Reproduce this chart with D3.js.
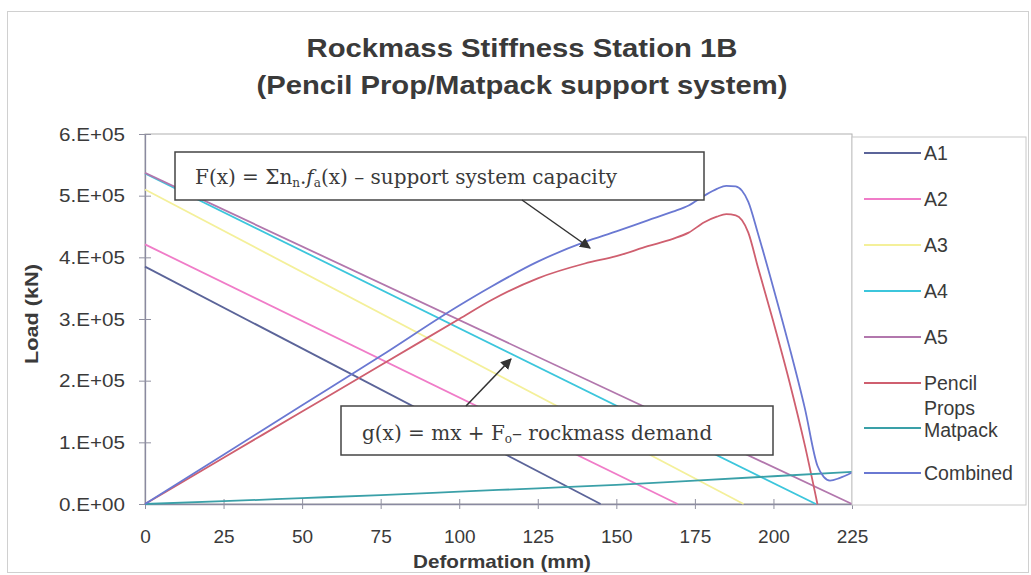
<!DOCTYPE html>
<html>
<head>
<meta charset="utf-8">
<script src="https://cdn.jsdelivr.net/npm/d3@7"></script>
<style>
  html, body { margin: 0; padding: 0; background: #fff; }
  svg { display: block; }
</style>
</head>
<body>
<svg id="chart" width="1031" height="575"></svg>
<script>
// Deformation (mm) / Load (kN) readings
const deformTicks = [0, 25, 50, 75, 100, 125, 150, 175, 200, 225];
const loadTicks = [0, 100000, 200000, 300000, 400000, 500000, 600000];
const loadTickLabels = ["0.E+00", "1.E+05", "2.E+05", "3.E+05", "4.E+05", "5.E+05", "6.E+05"];

// rockmass demand lines g(x) = mx + Fo
const a1 = [[0, 385000], [145, 0]];
const a2 = [[0, 421000], [169.5, 0]];
const a3 = [[0, 510000], [190.5, 0]];
const a4 = [[0, 536000], [213.5, 0]];
const a5 = [[0, 537000], [225, 0]];

// support capacity curves
const pencilX = [0, 25, 50, 75, 100, 110, 125, 140, 150, 160, 168, 173, 178, 182, 185, 188, 190, 192, 195, 200, 205, 210, 214];
const pencilY = [0, 75000, 150000, 225000, 300000, 330000, 366000, 390000, 402000, 418000, 430000, 440000, 457000, 466000, 470000, 468000, 460000, 440000, 385000, 295000, 200000, 95000, 0];

const matpackX = [0, 25, 50, 75, 100, 125, 150, 175, 200, 225];
const matpackY = [0, 4500, 9500, 14500, 20000, 25500, 31000, 38000, 45000, 52000];

const combinedX = [0, 25, 50, 75, 100, 110, 125, 140, 150, 160, 168, 173, 178, 182, 185, 188, 190, 192, 195, 200, 205, 210, 214, 216, 218, 221, 225];
const combinedY = [0, 80000, 160000, 240000, 322000, 352000, 393000, 425000, 442000, 460000, 474000, 484000, 500000, 511000, 516000, 515000, 508000, 490000, 440000, 350000, 256000, 155000, 62000, 44000, 38000, 42000, 51000];

const seriesNames = ["A1", "A2", "A3", "A4", "A5", "Pencil Props", "Matpack", "Combined"];
const seriesColors = ["#5b6499", "#f07cc8", "#f4f09a", "#3cc6dc", "#b277ad", "#cf5f6f", "#3aa0a8", "#6a78d2"];

const zip = (xs, ys) => xs.map((x, i) => [x, ys[i]]);
const seriesData = [a1, a2, a3, a4, a5, zip(pencilX, pencilY), zip(matpackX, matpackY), zip(combinedX, combinedY)];

const svg = d3.select("#chart");
const textColor = "#3a3a3a";
const sans = "Liberation Sans, Arial, sans-serif";
const serif = "DejaVu Serif, Liberation Serif, serif";

// outer frame
svg.append("rect")
  .attr("x", 7.5).attr("y", 11.5).attr("width", 1021).attr("height", 561)
  .attr("fill", "#fff").attr("stroke", "#d0d0d0").attr("stroke-width", 1);

const plot = { left: 145, right: 852, top: 134, bottom: 504 };
const x = d3.scaleLinear().domain([0, 225]).range([plot.left, plot.right]);
const y = d3.scaleLinear().domain([0, 600000]).range([plot.bottom, plot.top]);

// title
function titleLine(txt, ty, len) {
  svg.append("text")
    .attr("x", 522).attr("y", ty)
    .attr("text-anchor", "middle")
    .attr("font-family", sans)
    .attr("font-weight", "bold")
    .attr("font-size", 26)
    .attr("fill", textColor)
    .attr("textLength", len)
    .attr("lengthAdjust", "spacingAndGlyphs")
    .text(txt);
}
titleLine("Rockmass Stiffness Station 1B", 57, 431);
titleLine("(Pencil Prop/Matpack support system)", 94, 531);

// plot area border
svg.append("rect")
  .attr("x", plot.left).attr("y", plot.top)
  .attr("width", plot.right - plot.left).attr("height", plot.bottom - plot.top)
  .attr("fill", "none").attr("stroke", "#b0b0b0").attr("stroke-width", 1);

// axes
const xAxis = d3.axisBottom(x).tickValues(deformTicks).tickSize(0).tickPadding(26).tickFormat(d3.format("d"));
const yAxis = d3.axisLeft(y).tickValues(loadTicks).tickSize(0).tickPadding(20)
  .tickFormat(d => loadTickLabels[loadTicks.indexOf(d)]);

const gx = svg.append("g").attr("transform", `translate(0,${plot.bottom})`).call(xAxis);
const gy = svg.append("g").attr("transform", `translate(${plot.left},0)`).call(yAxis);
[gx, gy].forEach(g => {
  g.select(".domain").attr("stroke", "#8a8aa0").attr("stroke-width", 1.3);
  g.selectAll("text")
    .attr("font-family", sans)
    .attr("font-size", 19)
    .attr("fill", textColor);
});
gy.selectAll("text")
  .attr("textLength", 66)
  .attr("lengthAdjust", "spacingAndGlyphs");
// cross tick marks
gx.selectAll(".tick").append("line").attr("y1", -5).attr("y2", 5).attr("stroke", "#9090a0");
gy.selectAll(".tick").append("line").attr("x1", -6).attr("x2", 6).attr("stroke", "#9090a0");

// axis titles
svg.append("text")
  .attr("x", 502).attr("y", 568)
  .attr("text-anchor", "middle")
  .attr("font-family", sans)
  .attr("font-weight", "bold").attr("font-size", 19)
  .attr("fill", textColor)
  .attr("textLength", 178).attr("lengthAdjust", "spacingAndGlyphs")
  .text("Deformation (mm)");
svg.append("text")
  .attr("transform", "translate(38,314) rotate(-90)")
  .attr("text-anchor", "middle")
  .attr("font-family", sans)
  .attr("font-weight", "bold").attr("font-size", 19)
  .attr("fill", textColor)
  .attr("textLength", 100).attr("lengthAdjust", "spacingAndGlyphs")
  .text("Load (kN)");

// series lines
const line = d3.line().x(d => x(d[0])).y(d => y(d[1])).curve(d3.curveMonotoneX);
const linesG = svg.append("g");
seriesData.forEach((data, i) => {
  linesG.append("path")
    .datum(data)
    .attr("d", line)
    .attr("fill", "none")
    .attr("stroke", seriesColors[i])
    .attr("stroke-width", 1.8)
    .attr("stroke-linejoin", "round");
});

// legend
svg.append("rect")
  .attr("x", 852).attr("y", 137).attr("width", 174).attr("height", 368)
  .attr("fill", "#fff").attr("stroke", "#c8c8c8");
const legendY = [153, 199, 245, 291, 337, 383, 428, 473];
seriesNames.forEach((name, i) => {
  const ly = legendY[i];
  svg.append("line")
    .attr("x1", 864).attr("x2", 921).attr("y1", ly).attr("y2", ly)
    .attr("stroke", seriesColors[i]).attr("stroke-width", 1.8);
  const t = svg.append("text")
    .attr("font-family", sans)
    .attr("font-size", 19.5)
    .attr("fill", textColor);
  const parts = name === "Pencil Props" ? ["Pencil", "Props"] : [name];
  const base = name === "Matpack" ? ly + 9 : ly + 7;
  parts.forEach((p, j) => {
    t.append("tspan").attr("x", 924).attr("y", base + j * 25).text(p);
  });
});

// annotations
const defs = svg.append("defs");
defs.append("marker")
  .attr("id", "arrowhead")
  .attr("viewBox", "0 0 10 10")
  .attr("refX", 9).attr("refY", 5)
  .attr("markerWidth", 11).attr("markerHeight", 11)
  .attr("markerUnits", "userSpaceOnUse")
  .attr("orient", "auto")
  .append("path").attr("d", "M0,0 L10,5 L0,10 Z").attr("fill", "#333");

function arrow(x1, y1, x2, y2) {
  svg.append("line")
    .attr("x1", x1).attr("y1", y1).attr("x2", x2).attr("y2", y2)
    .attr("stroke", "#333").attr("stroke-width", 1.5)
    .attr("marker-end", "url(#arrowhead)");
}

// support system capacity label
svg.append("rect")
  .attr("x", 175).attr("y", 152).attr("width", 529).attr("height", 48)
  .attr("fill", "#fff").attr("stroke", "#444").attr("stroke-width", 1.5);
const f1 = svg.append("text")
  .attr("x", 195).attr("y", 184)
  .attr("font-family", serif).attr("font-size", 20).attr("fill", textColor);
f1.append("tspan").text("F(x) = Σn");
f1.append("tspan").attr("font-size", 12).attr("dy", 3).text("n");
f1.append("tspan").attr("dy", -3).text(".");
f1.append("tspan").attr("font-style", "italic").text("f");
f1.append("tspan").attr("font-size", 12).attr("dy", 3).text("a");
f1.append("tspan").attr("dy", -3).text("(x) – support system capacity");
arrow(522, 200, 590, 248);

// rockmass demand label
svg.append("rect")
  .attr("x", 341).attr("y", 406).attr("width", 432).attr("height", 49)
  .attr("fill", "#fff").attr("stroke", "#444").attr("stroke-width", 1.5);
const f2 = svg.append("text")
  .attr("x", 362).attr("y", 440)
  .attr("font-family", serif).attr("font-size", 20).attr("fill", textColor);
f2.append("tspan").text("g(x) = mx + F");
f2.append("tspan").attr("font-size", 12).attr("dy", 3).text("o");
f2.append("tspan").attr("dy", -3).text("– rockmass demand");
arrow(466, 406, 511, 359);
</script>
</body>
</html>
